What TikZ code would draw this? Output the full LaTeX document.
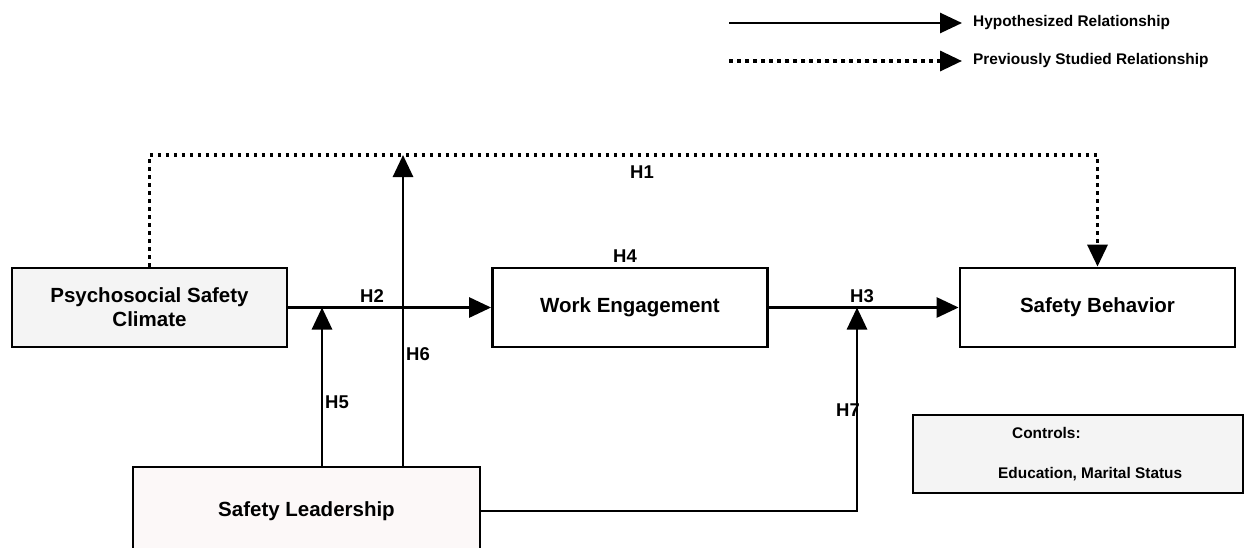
\documentclass[tikz,border=0pt]{standalone}
\usepackage{fontspec}
\setmainfont{Liberation Sans}
\usetikzlibrary{arrows.meta}

\definecolor{boxgray}{HTML}{F4F4F4}
\definecolor{boxpink}{HTML}{FCF8F8}

\tikzset{
  factor/.style={draw, line width=2.8pt, fill=#1, minimum width=275pt,
    minimum height=79pt, align=center, inner sep=0pt,
    font=\fontsize{20.5}{24}\selectfont\bfseries},
  factor/.default=white,
  hyp/.style={line width=2.8pt, -{Triangle[length=22pt,width=20pt]}},
  prev/.style={hyp, line width=3.4pt, dash pattern=on 3.5pt off 4.5pt},
  hlabel/.style={font=\fontsize{18.5}{21}\selectfont\bfseries},
  legtext/.style={anchor=west, inner sep=0pt, font=\fontsize{15.4}{18}\selectfont\bfseries},
}

\begin{document}
\begin{tikzpicture}[x=1pt, y=-1pt]
    \useasboundingbox (0,0) rectangle (1246,547);

    % legend
    \coordinate (legA) at (729,23);
    \coordinate (legB) at (729,61);
    \node[legtext] (legHyp) at (973,23) {Hypothesized Relationship};
    \node[legtext] (legPrev) at (973,61) {Previously Studied Relationship};
    \draw[hyp, shorten >=11pt] (legA) -- (legHyp.west);
    \draw[prev, shorten >=11pt] (legB) -- (legPrev.west);

    % factors
    \node[factor=boxgray] (psc) at (149.5,307.5) {Psychosocial Safety\\Climate};
    \node[factor] (we) at (630,307.5) {Work Engagement};
    \node[factor] (sb) at (1097.5,307.5) {Safety Behavior};
    \node[factor=boxpink, minimum width=347pt, minimum height=88pt] (sl) at (306.5,511) {Safety Leadership};

    % controls
    \node[draw, line width=2.8pt, fill=boxgray, minimum width=330pt, minimum height=78pt] (ctrl) at (1078,454) {};
    \node[legtext] (ctrlHead) at (1012,433) {Controls:};
    \node[legtext] (ctrlList) at (998,474) {Education, Marital Status};

    % paths
    \coordinate (h1top) at (149.5,155);
    \coordinate (h5) at (322,307.5);
    \coordinate (h6) at (403,155);
    \coordinate (h7) at (857,307.5);

    \draw[prev] (psc.north) -- (h1top) -| (sb.north);
    \draw[hyp] (psc) -- (we);
    \draw[hyp] (we) -- (sb);
    \draw[hyp] (sl.north -| h5) -- (h5);
    \draw[hyp] (sl.north -| h6) -- (h6);
    \draw[hyp] (sl.east) -| (h7);

    % labels
    \foreach \lab/\x/\y in {H1/642/172, H2/372/296, H3/862/296, H4/625/256,
                            H5/337/402, H6/418/354, H7/848/410} {
      \node[hlabel] (lab\lab) at (\x,\y) {\lab};
    }
\end{tikzpicture}
\end{document}
